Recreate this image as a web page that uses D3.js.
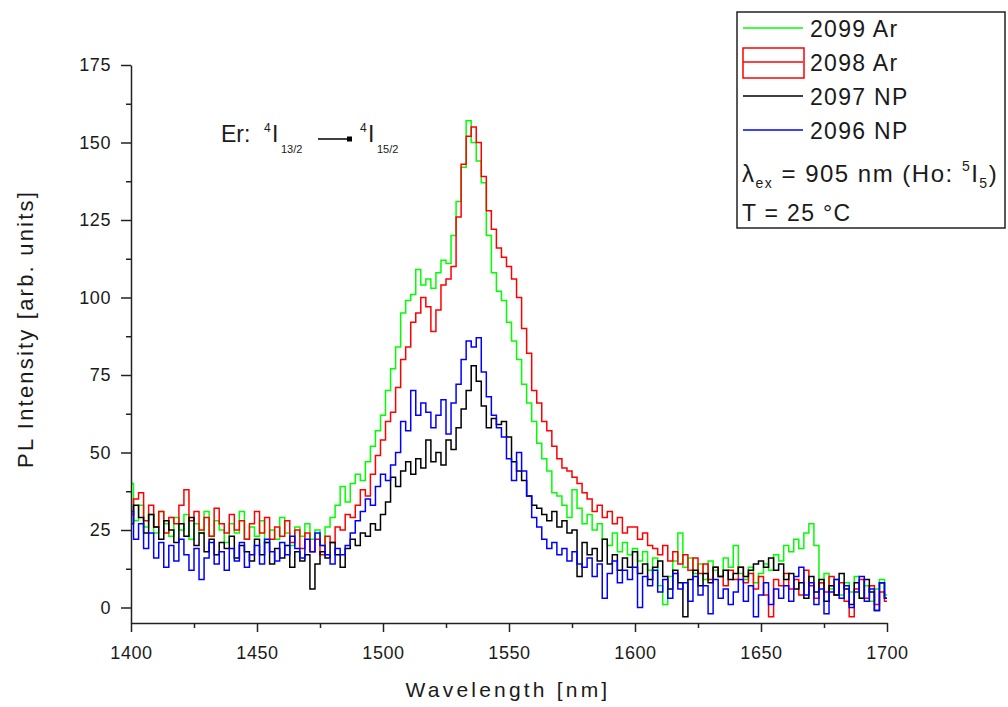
<!DOCTYPE html>
<html>
<head>
<meta charset="utf-8">
<script src="https://cdn.jsdelivr.net/npm/d3@7"></script>
<style>
  body { margin: 0; background: #fff; }
  svg text { font-family: "Liberation Sans", Arial, sans-serif; fill: #1a1a1a; }
</style>
</head>
<body>
<div id="chart"></div>
<script>
// wavelength grid, 2 nm steps
let wavelengths = d3.range(1400, 1701, 2);

// 2099 Ar (green)
let s2099 = [
  40, 28, 33, 26, 30, 24, 31, 27, 23, 29,
  25, 30, 22, 27, 24, 31, 23, 28, 25, 21,
  27, 24, 31, 22, 26, 23, 28, 21, 25, 22,
  29, 24, 20, 26, 23, 27, 22, 25, 20, 26,
  29, 33, 39, 34, 40, 43, 41, 47, 52, 57,
  62, 70, 77, 84, 95, 99, 101, 109, 104, 106,
  103, 108, 112, 111, 120, 131, 142, 157, 150, 144,
  137, 120, 108, 102, 99, 92, 86, 80, 72, 66,
  60, 53, 48, 44, 37, 36, 33, 29, 38, 32,
  27, 30, 25, 27, 22, 20, 24, 18, 21, 17,
  19, 15, 18, 12, 16, 7, 1, 10, 15, 24,
  13, 16, 11, 14, 9, 15, 12, 10, 16, 13,
  20, 11, 9, 13, 8, 11, 14, 12, 17, 15,
  20, 18, 22, 19, 24, 27, 20, 8, 11, 6,
  9, 4, 8, 5, 10, 3, 7, 2, 6, 9,
  4
];

// 2098 Ar (red)
let s2098 = [
  30, 35, 37, 28, 33, 26, 31, 24, 29, 27,
  33, 38, 28, 31, 25, 29, 23, 32, 27, 24,
  30, 25, 28, 22, 27, 31, 24, 29, 22, 26,
  23, 28, 21, 25, 19, 24, 18, 22, 17, 23,
  21, 26, 25, 30, 29, 33, 38, 36, 43, 49,
  54, 60, 63, 71, 80, 84, 92, 95, 100, 97,
  89, 96, 104, 106, 110, 126, 143, 152, 155, 150,
  139, 128, 122, 116, 113, 110, 106, 100, 90, 82,
  70, 66, 60, 57, 52, 48, 45, 44, 42, 40,
  37, 35, 31, 33, 29, 31, 27, 29, 24, 26,
  26, 22, 24, 20, 19, 17, 20, 15, 18, 14,
  17, 12, 16, 11, 14, 9, 13, 10, 7, 12,
  9, 13, 8, 11, 6, 10, 4, -3, 9, 7,
  11, 6, 9, 4, 12, 7, 3, 8, 5, 10,
  4, 8, 2, -3, 6, 9, 3, 7, 1, 5,
  2
];

// 2097 NP (black)
let s2097 = [
  27, 33, 29, 24, 30, 26, 22, 28, 25, 21,
  27, 23, 29, 20, 24, 18, 22, 17, 21, 19,
  23, 16, 20, 18, 15, 22, 17, 21, 14, 19,
  16, 20, 13, 18, 15, 17, 6, 14, 18, 16,
  21, 17, 13, 19, 22, 20, 24, 23, 27, 25,
  30, 34, 42, 39, 44, 47, 43, 48, 45, 54,
  47, 50, 46, 54, 51, 58, 64, 70, 78, 73,
  65, 58, 61, 59, 60, 55, 47, 44, 41, 36,
  33, 32, 30, 28, 31, 26, 28, 24, 25, 10,
  21, 17, 19, 15, 22, 14, 17, 12, 16, 13,
  18, 11, 14, 9, 13, 15, 10, 6, 12, 8,
  -3, 9, 12, 7, 11, 8, 13, 10, 12, 9,
  11, 13, 10, 12, 14, 15, 13, 16, 12, 14,
  9, 11, 6, 8, 3, 10, 5, 9, 2, 7,
  4, 11, 6, 1, 8, 3, 9, 5, -1, 8,
  3
];

// 2096 NP (blue)
let s2096 = [
  31, 22, 27, 19, 24, 16, 21, 13, 20, 15,
  22, 17, 12, 19, 9, 16, 21, 14, 18, 12,
  19, 15, 21, 13, 17, 20, 14, 22, 18, 15,
  21, 17, 23, 19, 16, 22, 18, 24, 20, 17,
  14, 19, 17, 20, 24, 28, 31, 35, 33, 39,
  43, 41, 46, 50, 60, 57, 70, 62, 66, 63,
  58, 62, 67, 56, 66, 72, 80, 86, 84, 87,
  76, 68, 62, 58, 55, 48, 41, 50, 44, 36,
  29, 26, 22, 19, 21, 17, 19, 15, 18, 14,
  13, 16, 10, 14, 3, 11, 15, 8, 12, 9,
  13, 0, 10, 7, 12, 5, 9, 3, 11, 6,
  8, 2, 10, 4, 7, -2, 9, 3, 6, 1,
  5, 9, 2, 7, -3, 4, 8, 1, 6, 3,
  7, 2, 10, 13, 4, 8, 1, 6, -2, 5,
  9, 3, 7, 0, 5, 10, 2, 6, -1, 8,
  3
];

let seriesNames = ["2099 Ar", "2098 Ar", "2097 NP", "2096 NP"];
let seriesColors = ["#00ff00", "#ff0000", "#000000", "#0000ff"];
let seriesValues = [s2099, s2098, s2097, s2096];

let xMajor = [1400, 1450, 1500, 1550, 1600, 1650, 1700];
let xMinor = [1425, 1475, 1525, 1575, 1625, 1675];
let yMajor = [0, 25, 50, 75, 100, 125, 150, 175];
let yMinor = [12.5, 37.5, 62.5, 87.5, 112.5, 137.5, 162.5];

let width = 1008, height = 707;
let margin = {top: 65, right: 121, bottom: 84, left: 131};

let svg = d3.select("#chart")
    .append("svg")
    .attr("width", width)
    .attr("height", height);

let x = d3.scaleLinear()
    .domain([1400, 1700])
    .range([margin.left, width - margin.right]);

let y = d3.scaleLinear()
    .domain([-5, 175])
    .range([height - margin.bottom, margin.top]);

// data lines
let line = d3.line()
    .x((d, i) => x(wavelengths[i]))
    .y(d => y(d))
    .curve(d3.curveStep);

let lines = svg.append("g");
seriesValues.forEach(function(vals, k) {
    lines.append("path")
        .datum(vals)
        .attr("fill", "none")
        .attr("stroke", seriesColors[k])
        .attr("stroke-width", 1.5)
        .attr("d", line);
});

// axes
function styleAxis(g) {
    g.selectAll("path, line").attr("stroke", "#222").attr("stroke-width", 1.5);
    g.selectAll("text")
        .style("font-size", "18px")
        .style("letter-spacing", "0.6px")
        .attr("fill", "#1a1a1a");
}

let xAxisY = y(-5);
svg.append("g")
    .attr("transform", "translate(0," + xAxisY + ")")
    .call(d3.axisBottom(x).tickValues(xMinor).tickSize(5).tickSizeOuter(0).tickFormat(""))
    .call(styleAxis)
    .select(".domain").remove();
svg.append("g")
    .attr("transform", "translate(0," + xAxisY + ")")
    .call(d3.axisBottom(x).tickValues(xMajor).tickSize(9).tickSizeOuter(0).tickPadding(14)
        .tickFormat(d3.format("d")))
    .call(styleAxis);

svg.append("g")
    .attr("transform", "translate(" + x(1400) + ",0)")
    .call(d3.axisLeft(y).tickValues(yMinor).tickSize(5).tickSizeOuter(0).tickFormat(""))
    .call(styleAxis)
    .select(".domain").remove();
svg.append("g")
    .attr("transform", "translate(" + x(1400) + ",0)")
    .call(d3.axisLeft(y).tickValues(yMajor).tickSize(10).tickSizeOuter(0).tickPadding(10)
        .tickFormat(d3.format("d")))
    .call(styleAxis);

// axis titles
svg.append("text")
    .attr("x", 508)
    .attr("y", 697)
    .style("text-anchor", "middle")
    .style("font-size", "21px")
    .style("letter-spacing", "3.2px")
    .text("Wavelength [nm]");

svg.append("text")
    .attr("transform", "translate(33,329) rotate(-90)")
    .style("text-anchor", "middle")
    .style("font-size", "22px")
    .style("letter-spacing", "2.2px")
    .text("PL Intensity [arb. units]");

// transition annotation
let ann = svg.append("g");
ann.append("text").attr("x", 221).attr("y", 142).style("font-size", "23px").text("Er:");
ann.append("text").attr("x", 264).attr("y", 132).style("font-size", "12px").text("4");
ann.append("text").attr("x", 272).attr("y", 142).style("font-size", "23px").text("I");
ann.append("text").attr("x", 281).attr("y", 153).style("font-size", "11px").text("13/2");
ann.append("line")
    .attr("x1", 318).attr("x2", 349).attr("y1", 139).attr("y2", 139)
    .attr("stroke", "#000").attr("stroke-width", 1.5);
ann.append("rect")
    .attr("x", 347).attr("y", 136.5).attr("width", 5).attr("height", 5)
    .attr("fill", "#000");
ann.append("text").attr("x", 360).attr("y", 132).style("font-size", "12px").text("4");
ann.append("text").attr("x", 368).attr("y", 142).style("font-size", "23px").text("I");
ann.append("text").attr("x", 377).attr("y", 153).style("font-size", "11px").text("15/2");

// legend
let legend = svg.append("g");
legend.append("rect")
    .attr("x", 737).attr("y", 12).attr("width", 268).attr("height", 216)
    .attr("fill", "#fff").attr("stroke", "#222").attr("stroke-width", 1.5);

let rowY = [28, 62, 96, 130];
seriesNames.forEach(function(name, k) {
    if (k == 1) {
        legend.append("rect")
            .attr("x", 743).attr("y", 48).attr("width", 61).attr("height", 30)
            .attr("fill", "none").attr("stroke", seriesColors[k]).attr("stroke-width", 1.5);
    }
    legend.append("line")
        .attr("x1", 743).attr("x2", 803)
        .attr("y1", rowY[k]).attr("y2", rowY[k])
        .attr("stroke", seriesColors[k]).attr("stroke-width", 1.5);
    legend.append("text")
        .attr("x", 810).attr("y", rowY[k] + 9)
        .style("font-size", "23px")
        .style("letter-spacing", "1.3px")
        .text(name);
});

let lam = legend.append("text").attr("x", 742).attr("y", 182)
    .style("font-size", "24px").style("letter-spacing", "1.5px");
lam.append("tspan").text("λ");
lam.append("tspan").attr("dy", 6).style("font-size", "14px").text("ex");
lam.append("tspan").attr("dy", -6).text(" = 905 nm (Ho: ");
lam.append("tspan").attr("dy", -11).style("font-size", "14px").text("5");
lam.append("tspan").attr("dy", 11).text("I");
lam.append("tspan").attr("dy", 6).style("font-size", "14px").text("5");
lam.append("tspan").attr("dy", -6).text(")");

legend.append("text")
    .attr("x", 742).attr("y", 221)
    .style("font-size", "23px")
    .style("letter-spacing", "1.3px")
    .text("T = 25 °C");
</script>
</body>
</html>
